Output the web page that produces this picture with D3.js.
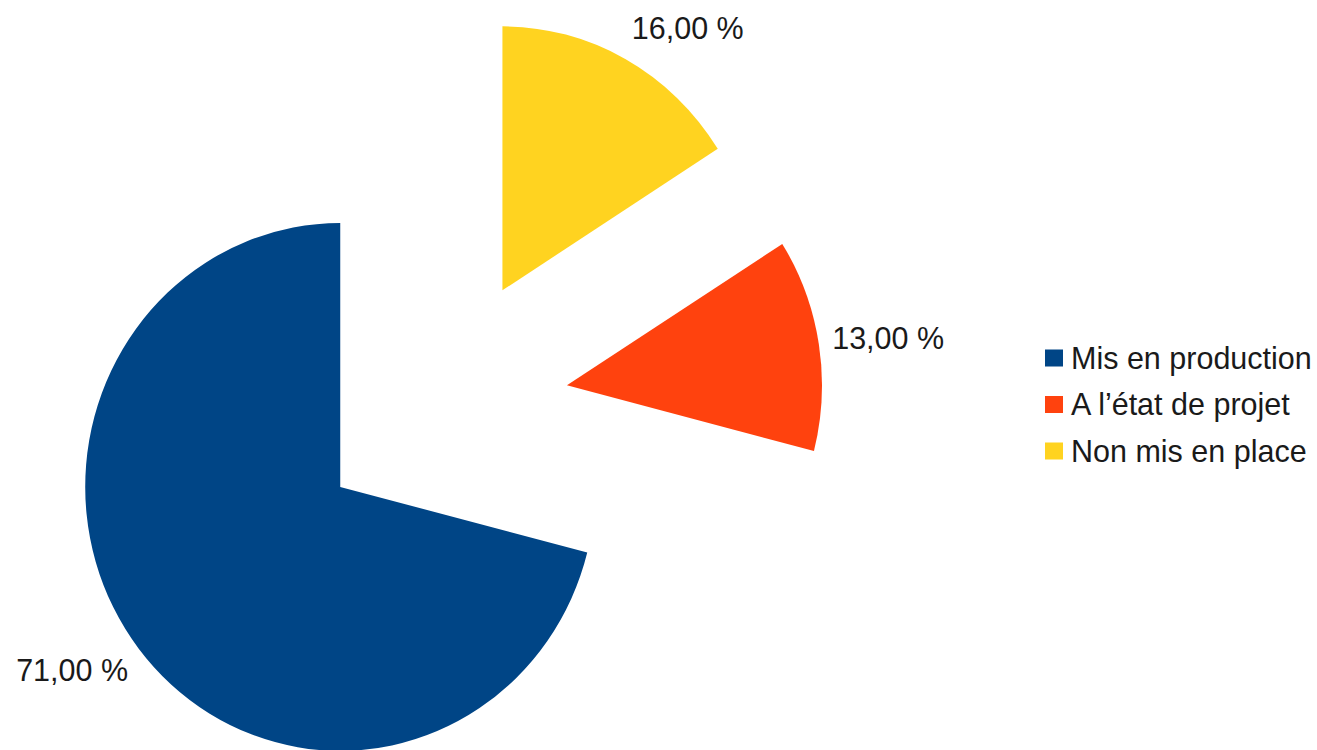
<!DOCTYPE html>
<html>
<head>
<meta charset="utf-8">
<script src="https://cdn.jsdelivr.net/npm/d3@7"></script>
<style>
  body { margin: 0; background: #fff; }
  text { font-family: "Liberation Sans", Arial, sans-serif; fill: #1a1a1a; }
</style>
</head>
<body>
<script>
// chart data
var categories = ['Mis en production', 'A l\u2019\u00e9tat de projet', 'Non mis en place'];
var values = [71, 13, 16];
var labels = ['71,00 %', '13,00 %', '16,00 %'];
var colors = ['#004586', '#ff420e', '#ffd320'];

var width = 1317,
    height = 750;

var svg = d3.select('body')
  .append('svg')
  .attr('width', width)
  .attr('height', height);

// pie centre, radius, how far each slice is pulled out
var cx = 441, cy = 406,
    r = 264,
    explode = 132,
    sx = 0.966; // the pie is drawn slightly narrower than tall

// counter-clockwise from 12 o'clock, like the office chart
var pie = d3.pie().sort(null).startAngle(0).endAngle(-2 * Math.PI);
var arcs = pie(values);

var arc = d3.arc().innerRadius(0).outerRadius(r);

function mid(d) { return (d.startAngle + d.endAngle) / 2; }

var g = svg.append('g')
  .attr('transform', 'translate(' + cx + ',' + cy + ') scale(' + sx + ',1)');

g.selectAll('path')
  .data(arcs)
  .enter()
  .append('path')
  .attr('d', arc)
  .attr('fill', function(d, i) { return colors[i]; })
  .attr('transform', function(d) {
    var a = mid(d);
    return 'translate(' + (explode * Math.sin(a)) + ',' + (-explode * Math.cos(a)) + ')';
  });

// value labels just outside each slice
var fontSize = 30.5;
svg.selectAll('text.value')
  .data(arcs)
  .enter()
  .append('text')
  .attr('class', 'value')
  .style('font-size', fontSize + 'px')
  .each(function(d, i) {
    var a = mid(d),
        s = Math.sin(a),
        c = Math.cos(a),
        R = explode + r + 14;
    var x = cx + R * s * sx,
        y = cy - R * c - c * fontSize * 0.7;
    d3.select(this)
      .attr('x', x)
      .attr('y', y)
      .attr('dy', '0.35em')
      .attr('text-anchor', s >= 0 ? 'start' : 'end')
      .text(labels[i]);
  });

// legend
var legend = svg.append('g')
  .attr('transform', 'translate(1045, 358)');

var rows = legend.selectAll('g')
  .data(categories)
  .enter()
  .append('g')
  .attr('transform', function(d, i) { return 'translate(0,' + (i * 46.5) + ')'; });

rows.append('rect')
  .attr('x', 0)
  .attr('y', -8.5)
  .attr('width', 18)
  .attr('height', 17)
  .attr('fill', function(d, i) { return colors[i]; });

rows.append('text')
  .attr('x', 26)
  .attr('y', 0)
  .attr('dy', '0.35em')
  .style('font-size', fontSize + 'px')
  .text(function(d) { return d; });
</script>
</body>
</html>
